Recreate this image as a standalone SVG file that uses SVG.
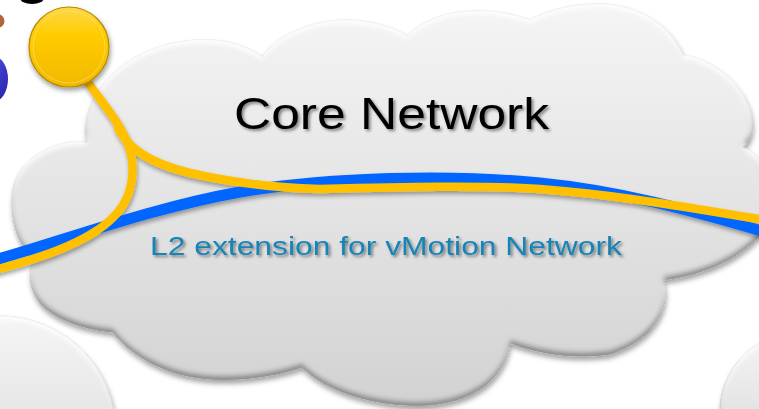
<svg xmlns="http://www.w3.org/2000/svg" width="759" height="409" viewBox="0 0 759 409">
  <defs>
    <style>
      .title { font-family: "Liberation Sans", "DejaVu Sans", sans-serif; font-size: 44px; fill: #000; }
      .label { font-family: "Liberation Sans", "DejaVu Sans", sans-serif; font-size: 25px; fill: #1884b6; }
      .blue { fill: none; stroke: #0066ff; stroke-width: 11; stroke-linecap: butt; }
      .yellow { fill: none; stroke: #ffc000; stroke-width: 8.5; stroke-linecap: round; }
    </style>
    <linearGradient id="cloudFill" x1="0" y1="0" x2="0" y2="1">
      <stop offset="0" stop-color="#f5f5f5"/>
      <stop offset="1" stop-color="#d2d2d2"/>
    </linearGradient>
    <linearGradient id="ballFill" x1="0" y1="0" x2="0" y2="1">
      <stop offset="0" stop-color="#ffd84a"/>
      <stop offset="0.35" stop-color="#ffcc00"/>
      <stop offset="1" stop-color="#f2b800"/>
    </linearGradient>
    <linearGradient id="bodyFill" x1="0" y1="0" x2="1" y2="1">
      <stop offset="0" stop-color="#5a5af0"/>
      <stop offset="1" stop-color="#2222a8"/>
    </linearGradient>
    <!-- bevelled cloud: drop shadow + darker lower rim -->
    <filter id="cloudFx" x="-10%" y="-10%" width="125%" height="130%">
      <feGaussianBlur in="SourceAlpha" stdDeviation="2.5" result="blur"/>
      <feOffset in="blur" dx="1" dy="4" result="dropOff"/>
      <feFlood flood-color="#000" flood-opacity="0.35"/>
      <feComposite in2="dropOff" operator="in" result="drop"/>
      <feOffset in="blur" dx="0" dy="-4" result="upBlur"/>
      <feComposite in="SourceAlpha" in2="upBlur" operator="arithmetic" k2="1" k3="-1" result="rim"/>
      <feFlood flood-color="#7a7a7a" flood-opacity="0.9"/>
      <feComposite in2="rim" operator="in" result="rimShade"/>
      <feOffset in="blur" dx="0" dy="4" result="downBlur"/>
      <feComposite in="SourceAlpha" in2="downBlur" operator="arithmetic" k2="1" k3="-1" result="hiRim"/>
      <feFlood flood-color="#ffffff" flood-opacity="0.9"/>
      <feComposite in2="hiRim" operator="in" result="hiShade"/>
      <feMerge>
        <feMergeNode in="drop"/>
        <feMergeNode in="SourceGraphic"/>
        <feMergeNode in="rimShade"/>
        <feMergeNode in="hiShade"/>
      </feMerge>
    </filter>
    <filter id="lineShadow" x="-5%" y="-20%" width="110%" height="150%">
      <feDropShadow dx="1" dy="3" stdDeviation="2" flood-color="#000" flood-opacity="0.35"/>
    </filter>
    <filter id="textShadow" x="-5%" y="-20%" width="110%" height="150%">
      <feDropShadow dx="2" dy="2" stdDeviation="1.5" flood-color="#000" flood-opacity="0.45"/>
    </filter>
    <filter id="ballFx" x="-30%" y="-30%" width="160%" height="160%">
      <feDropShadow dx="1" dy="3" stdDeviation="2.5" flood-color="#000" flood-opacity="0.4"/>
    </filter>
  </defs>

  <rect width="759" height="409" fill="#ffffff"/>

  <!-- neighbouring clouds at the lower corners -->
  <g id="cloud-left" filter="url(#cloudFx)">
    <circle cx="0" cy="432" r="116" fill="url(#cloudFill)" stroke="#b5b5b5" stroke-width="1"/>
  </g>
  <g id="cloud-right" filter="url(#cloudFx)">
    <circle cx="800" cy="412" r="80" fill="url(#cloudFill)" stroke="#b5b5b5" stroke-width="1"/>
  </g>

  <!-- user icon, cut by the left edge -->
  <g id="user">
    <ellipse cx="-2" cy="78" rx="16" ry="27" fill="#ffffff"/>
    <ellipse cx="-7" cy="79" rx="15" ry="23" fill="url(#bodyFill)"/>
    <ellipse cx="-3" cy="21" rx="7.5" ry="7" fill="#b0643c"/>
    <ellipse cx="32" cy="-2" rx="12" ry="6" fill="#000000"/>
  </g>

  <!-- core network cloud -->
  <g id="core-network">
    <path filter="url(#cloudFx)" fill="url(#cloudFill)" stroke="#c8c8c8" stroke-width="0.8"
      d="M87,142 C78,100 120,45 195,40 C225,38 248,46 262,57
         C280,30 320,20 345,20 C370,20 395,27 407,36
         C425,18 450,12 470,11 C495,10 515,14 530,20
         C550,8 580,3 605,4 C640,6 670,25 683,55
         C710,58 740,80 750,110 C755,128 752,140 743,147
         C775,160 790,215 760,235 C735,262 700,275 663,280
         C672,305 655,340 610,354 C570,360 535,352 510,343
         C505,375 480,400 430,405 C385,408 330,395 302,367
         C270,378 230,382 200,378 C165,374 130,355 113,332
         C85,330 50,318 38,300 C28,285 28,268 35,258
         C15,245 8,210 14,185 C22,155 60,138 87,142 Z"/>
    <text class="title" x="234" y="129" textLength="315" lengthAdjust="spacingAndGlyphs" filter="url(#textShadow)">Core Network</text>
  </g>

  <!-- links -->
  <g id="connectors" filter="url(#lineShadow)">
    <path class="blue" d="M-5,260 C60,242 150,208 240,192 C330,177 450,174 540,183 C620,191 690,210 765,232"/>
    <path class="yellow" d="M118,128 C127,146 145,162 190,173 C230,182 270,188 320,189 C400,187 480,185 540,189 C620,195 690,208 765,220"/>
    <path class="yellow" d="M85,78 C105,108 128,130 132,160 C136,195 120,218 88,236 C60,252 25,262 -5,270"/>
  </g>

  <!-- access switch -->
  <g id="switch" filter="url(#ballFx)">
    <circle cx="69" cy="47" r="40" fill="url(#ballFill)" stroke="#b58a00" stroke-width="1.2"/>
    <circle cx="69" cy="47" r="36" fill="none" stroke="#ffe27a" stroke-width="1" opacity="0.6"/>
  </g>

  <text class="label" x="150" y="255" textLength="472" lengthAdjust="spacingAndGlyphs" filter="url(#textShadow)">L2 extension for vMotion Network</text>
</svg>
